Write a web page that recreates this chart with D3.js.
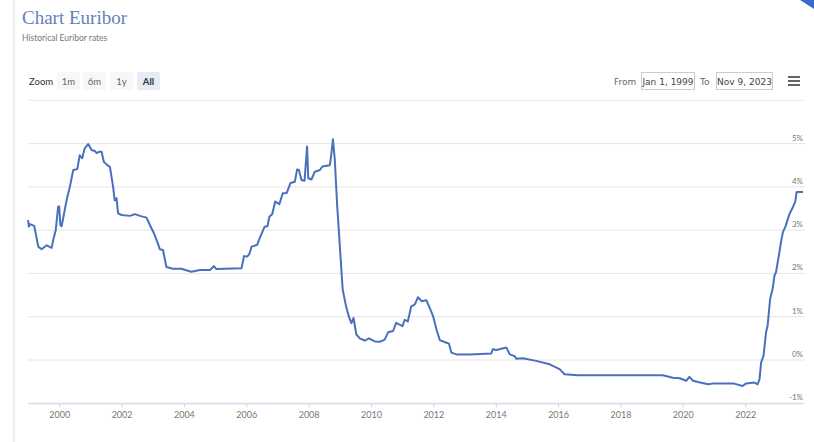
<!DOCTYPE html>
<meta charset="utf-8">
<script src="https://cdn.jsdelivr.net/npm/d3@7"></script>
<style>
  body { margin: 0; background: #fff; }
  svg { display: block; }
  .grid line { stroke: #e6e6e6; stroke-width: 1px; }
  .ylab { font: 8px Lato, sans-serif; fill: #777; }
  .xaxis text { font: 9px Lato, sans-serif; fill: #777; }
  .xaxis path, .xaxis line { stroke: #ccd6eb; }
  .btn text { font: 9.5px Lato, sans-serif; fill: #555; }
</style>
<div id="chart"></div>
<script>

// 12 month Euribor
const dates = [
  "1999-01-01","1999-01-12","1999-01-22","1999-03-15","1999-05-01","1999-06-10","1999-08-08","1999-10-05",
  "1999-10-23","1999-11-22","1999-12-20","2000-01-01","2000-01-15","2000-01-30","2000-03-28","2000-05-05",
  "2000-06-14","2000-07-31","2000-08-29","2000-09-27","2000-10-26","2000-12-06","2001-01-15","2001-02-21",
  "2001-03-15","2001-04-13","2001-05-12","2001-06-07","2001-07-09","2001-08-18","2001-09-24","2001-10-12",
  "2001-11-03","2001-11-21","2002-01-01","2002-04-09","2002-06-07","2002-08-04","2002-10-20","2002-11-29",
  "2003-01-15","2003-03-03","2003-03-25","2003-05-01","2003-06-10","2003-08-26","2003-12-01","2004-03-28",
  "2004-07-08","2004-11-03","2004-12-17","2005-01-15","2005-11-06","2005-12-05","2006-01-12","2006-02-06",
  "2006-03-04","2006-05-08","2006-06-06","2006-08-04","2006-09-06","2006-09-28","2006-10-31","2006-12-06",
  "2007-01-23","2007-03-04","2007-04-20","2007-06-03","2007-07-24","2007-08-19","2007-09-10","2007-10-09",
  "2007-11-14","2007-12-14","2007-12-28","2008-02-03","2008-03-14","2008-05-12","2008-06-10","2008-09-06",
  "2008-09-24","2008-10-12","2008-11-03","2008-11-29","2009-01-01","2009-02-03","2009-03-15","2009-04-17",
  "2009-05-16","2009-06-10","2009-07-13","2009-08-22","2009-10-19","2009-12-09","2010-02-14","2010-04-13",
  "2010-06-10","2010-07-20","2010-09-16","2010-10-23","2010-12-02","2011-01-05","2011-01-30","2011-03-08",
  "2011-04-17","2011-05-27","2011-07-06","2011-08-15","2011-10-12","2011-11-18","2011-12-28","2012-02-06",
  "2012-03-17","2012-06-03","2012-07-01","2012-07-31","2012-09-27","2013-03-04","2013-11-10","2013-11-28",
  "2014-01-08","2014-05-05","2014-06-14","2014-08-11","2014-08-29","2014-11-14","2015-04-20","2015-09-24",
  "2016-01-19","2016-03-17","2016-08-18","2019-05-12","2019-09-06","2019-11-24","2020-02-10","2020-03-18",
  "2020-05-01","2020-07-20","2020-10-27","2020-12-24","2021-08-15","2021-12-02","2022-01-12","2022-04-20",
  "2022-05-27","2022-06-18","2022-07-06","2022-08-04","2022-09-02","2022-09-20","2022-10-20","2022-11-18",
  "2022-12-10","2022-12-28","2023-01-30","2023-02-24","2023-03-18","2023-04-20","2023-06-03","2023-07-13",
  "2023-08-11","2023-08-26","2023-11-09"
];
const rates = [
  3.23,3.08,3.14,3.10,2.62,2.56,2.65,2.59,
  2.77,3.00,3.54,3.55,3.12,3.09,3.69,4.00,
  4.39,4.41,4.73,4.66,4.89,4.99,4.85,4.83,
  4.78,4.81,4.81,4.58,4.52,4.46,4.00,3.69,
  3.74,3.39,3.35,3.33,3.37,3.33,3.29,3.12,
  2.93,2.69,2.56,2.54,2.15,2.11,2.11,2.04,
  2.08,2.08,2.17,2.10,2.12,2.40,2.39,2.45,
  2.62,2.66,2.81,3.08,3.09,3.31,3.37,3.66,
  3.60,3.85,3.86,4.09,4.12,4.40,4.39,4.16,
  4.14,4.93,4.20,4.17,4.35,4.39,4.47,4.50,
  4.77,5.10,4.62,3.62,2.62,1.63,1.24,1.00,
  0.85,0.97,0.59,0.50,0.45,0.50,0.43,0.42,
  0.47,0.64,0.67,0.86,0.82,0.78,0.93,0.89,
  1.24,1.28,1.45,1.36,1.38,1.21,1.02,0.71,
  0.46,0.40,0.38,0.17,0.13,0.13,0.15,0.25,
  0.23,0.29,0.13,0.09,0.03,0.04,-0.02,-0.10,
  -0.21,-0.33,-0.35,-0.35,-0.41,-0.42,-0.48,-0.39,
  -0.48,-0.52,-0.56,-0.54,-0.54,-0.60,-0.54,-0.52,
  -0.56,-0.44,-0.06,0.10,0.64,0.79,1.41,1.64,
  1.95,2.03,2.41,2.72,2.95,3.10,3.37,3.53,
  3.66,3.88,3.88
];

const yTicks = [-1, 0, 1, 2, 3, 4, 5, 6];
const xTickYears = [2000, 2002, 2004, 2006, 2008, 2010, 2012, 2014, 2016, 2018, 2020, 2022];
const zoomButtons = ["1m", "6m", "1y", "All"];
const rangeFrom = "Jan 1, 1999", rangeTo = "Nov 9, 2023";

const W = 814, H = 442;
const plot = {left: 28, right: 803, top: 100.3, bottom: 403.3};

const parse = d3.timeParse("%Y-%m-%d");
const data = dates.map((d, i) => ({date: parse(d), value: rates[i]}));

const svg = d3.select("#chart").append("svg")
    .attr("width", W).attr("height", H);

// page frame bits
svg.append("line")
    .attr("x1", 14).attr("x2", 14).attr("y1", 0).attr("y2", H)
    .attr("stroke", "#e8e8e8").attr("stroke-width", 1.5);
svg.append("polygon")
    .attr("points", "800,0 814,0 814,9")
    .attr("fill", "#3b6dc6");

// title
svg.append("text")
    .attr("x", 22).attr("y", 24)
    .style("font", "19px 'Liberation Serif', serif")
    .attr("fill", "#6481bb")
    .text("Chart Euribor");
svg.append("text")
    .attr("x", 22).attr("y", 41)
    .style("font", "8.5px Lato, sans-serif")
    .attr("fill", "#777")
    .text("Historical Euribor rates");

// range selector
svg.append("text")
    .attr("x", 29).attr("y", 84.5)
    .style("font", "9.5px Lato, sans-serif")
    .attr("fill", "#333")
    .text("Zoom");

const btnX = [57, 83, 110, 137];
const btn = svg.selectAll(".btn").data(zoomButtons).enter()
  .append("g").attr("class", "btn")
    .attr("transform", (d, i) => `translate(${btnX[i]},72)`);
btn.append("rect")
    .attr("width", 23).attr("height", 18).attr("rx", 2)
    .attr("fill", d => d == "All" ? "#e6ebf5" : "#f7f7f7");
btn.append("text")
    .attr("x", 11.5).attr("y", 12.5)
    .attr("text-anchor", "middle")
    .style("font-weight", d => d == "All" ? "bold" : "normal")
    .style("fill", d => d == "All" ? "#333" : "#666")
    .text(d => d);

const inputFont = "9px 'DejaVu Sans', sans-serif";
svg.append("text").attr("x", 614).attr("y", 84.5)
    .style("font", inputFont).attr("fill", "#666").text("From");
svg.append("rect").attr("x", 641.5).attr("y", 72.5).attr("width", 53).attr("height", 17)
    .attr("fill", "#fff").attr("stroke", "#ccc");
svg.append("text").attr("x", 668).attr("y", 84.5).attr("text-anchor", "middle")
    .style("font", inputFont).attr("fill", "#444").text(rangeFrom);
svg.append("text").attr("x", 700).attr("y", 84.5)
    .style("font", inputFont).attr("fill", "#666").text("To");
svg.append("rect").attr("x", 716.5).attr("y", 72.5).attr("width", 56).attr("height", 17)
    .attr("fill", "#fff").attr("stroke", "#ccc");
svg.append("text").attr("x", 744.5).attr("y", 84.5).attr("text-anchor", "middle")
    .style("font", inputFont).attr("fill", "#444").text(rangeTo);

// hamburger menu
svg.append("g").selectAll("line").data([77, 81, 85]).enter()
  .append("line")
    .attr("x1", 788).attr("x2", 800)
    .attr("y1", d => d).attr("y2", d => d)
    .attr("stroke", "#555").attr("stroke-width", 1.8);

// scales
const x = d3.scaleTime()
    .domain([parse("1999-01-01"), parse("2023-11-09")])
    .range([plot.left, plot.right]);
const y = d3.scaleLinear()
    .domain([-1, 6])
    .range([plot.bottom, plot.top]);

// grid + right side labels
const grid = svg.append("g").attr("class", "grid");
grid.selectAll("line").data(yTicks).enter()
  .append("line")
    .attr("x1", plot.left).attr("x2", plot.right + 2)
    .attr("y1", d => y(d)).attr("y2", d => y(d));
svg.append("g").selectAll("text").data(yTicks.slice(0, -1)).enter()
  .append("text").attr("class", "ylab")
    .attr("x", plot.right).attr("y", d => y(d) - 3)
    .attr("text-anchor", "end")
    .text(d => d + "%");

// x axis
const xAxis = d3.axisBottom(x)
    .tickValues(xTickYears.map(yr => new Date(yr, 0, 1)))
    .tickFormat(d3.timeFormat("%Y"))
    .tickSize(4)
    .tickPadding(4);
svg.append("g").attr("class", "xaxis")
    .attr("transform", `translate(0,${plot.bottom})`)
    .call(xAxis)
    .call(g => g.select(".domain").attr("d", `M${plot.left},0.5H${plot.right}`));

// the line
const line = d3.line()
    .x(d => x(d.date))
    .y(d => y(d.value));
svg.append("path")
    .datum(data)
    .attr("d", line)
    .attr("fill", "none")
    .attr("stroke", "#4a70bd")
    .attr("stroke-width", 2)
    .attr("stroke-linejoin", "round");

</script>
